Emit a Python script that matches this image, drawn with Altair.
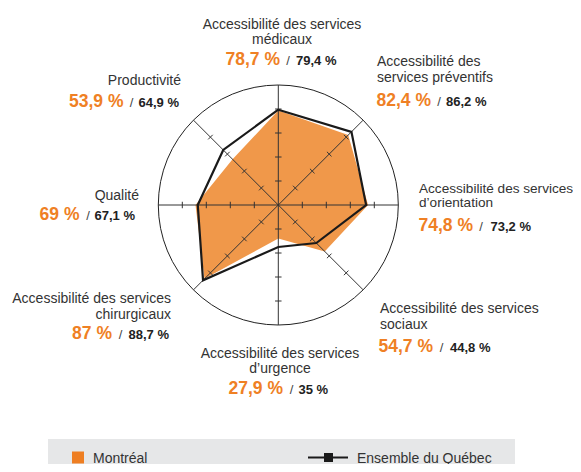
import math
import altair as alt
import pandas as pd

# ---------------- data ----------------
category_lines = [
    ["Accessibilité des services", "médicaux"],
    ["Accessibilité des", "services préventifs"],
    ["Accessibilité des services", "d’orientation"],
    ["Accessibilité des services", "sociaux"],
    ["Accessibilité des services", "d’urgence"],
    ["Accessibilité des services", "chirurgicaux"],
    ["Qualité"],
    ["Productivité"],
]
montreal = [78.7, 82.4, 74.8, 54.7, 27.9, 87.0, 69.0, 53.9]
quebec = [79.4, 86.2, 73.2, 44.8, 35.0, 88.7, 67.1, 64.9]
montreal_text = ["78,7 %", "82,4 %", "74,8 %", "54,7 %", "27,9 %", "87 %", "69 %", "53,9 %"]
quebec_text = ["79,4 %", "86,2 %", "73,2 %", "44,8 %", "35 %", "88,7 %", "67,1 %", "64,9 %"]
tick_values = [20, 40, 60, 80]
series_names = ["Montréal", "Ensemble du Québec"]

# ---------------- layout (page pixels) ----------------
CX, CY, K = 278.3, 205.0, 1.2   # centre of radar, px per percent
W, H = 565, 456


def ux(px):
    return (px - CX) / K


def uy(py):
    return (CY - py) / K


# name anchor: (x, first baseline, align, line spacing, font size)
name_anchor = [
    (282, 28.5, "center", 15, 14),
    (377, 65.5, "left", 16, 14),
    (419, 193, "left", 14, 13.6),
    (380, 313, "left", 15.5, 14),
    (280, 357.5, "center", 15, 14),
    (171, 303, "right", 16, 14),
    (139, 199.5, "right", 15, 14),
    (181, 84.5, "right", 15, 14),
]
# value anchor: (orange right edge, slash centre, black left edge, baseline)
value_anchor = [
    (280, 288, 296, 64.5),
    (431, 439, 446, 105.5),
    (473, 481, 490.5, 231),
    (433, 441.5, 450, 351.5),
    (283, 291.5, 298.5, 394),
    (112, 120.5, 128.5, 339),
    (79.5, 88, 94.5, 220),
    (123.5, 131.5, 138.5, 107),
]

ORANGE_TXT = "#EF8024"
ORANGE_FILL = "#F0984A"
FONT = "Liberation Sans"

xs = alt.Scale(domain=[ux(8), ux(8 + W)], nice=False, zero=False)
ys = alt.Scale(domain=[uy(8 + H), uy(8)], nice=False, zero=False)

n = len(montreal)
ang = [2 * math.pi * i / n for i in range(n)]

X = alt.X("x:Q", scale=xs, axis=None)
Y = alt.Y("y:Q", scale=ys, axis=None)


def poly(values):
    rows = []
    for i in range(n + 1):
        j = i % n
        rows.append({"i": i, "x": values[j] * math.sin(ang[j]), "y": values[j] * math.cos(ang[j])})
    return pd.DataFrame(rows)


# filled Montréal polygon
m_layer = alt.Chart(poly(montreal)).mark_line(filled=True, color=ORANGE_FILL, strokeWidth=0).encode(
    x=X, y=Y, order="i:Q"
)

# Québec line
q_layer = alt.Chart(poly(quebec)).mark_line(color="#1a1a1a", strokeWidth=2.2, strokeJoin="miter").encode(
    x=X, y=Y, order="i:Q"
)

# spokes
sp_df = pd.DataFrame(
    [{"x": 0, "y": 0, "x2": 100 * math.sin(a), "y2": 100 * math.cos(a)} for a in ang]
)
spokes = alt.Chart(sp_df).mark_rule(color="#333333", strokeWidth=1).encode(
    x=X, y=Y, x2="x2:Q", y2="y2:Q"
)

# ticks
tk_rows = []
hl = 2.7
for a in ang:
    for r in tick_values:
        cx, cy = r * math.sin(a), r * math.cos(a)
        dx, dy = math.cos(a), -math.sin(a)
        tk_rows.append({"x": cx - hl * dx, "y": cy - hl * dy, "x2": cx + hl * dx, "y2": cy + hl * dy})
ticks = alt.Chart(pd.DataFrame(tk_rows)).mark_rule(color="#333333", strokeWidth=1).encode(
    x=X, y=Y, x2="x2:Q", y2="y2:Q"
)

# outer circle (radius = 100 %)
circ = alt.Chart(pd.DataFrame({"x": [0], "y": [0]})).mark_point(
    shape="circle", filled=False, size=(2 * 100 * K) ** 2, color="#222222", strokeWidth=1, opacity=1
).encode(x=X, y=Y)

# category names
name_layers = []
groups = {}
for lines, (x, b, al, sp, fs) in zip(category_lines, name_anchor):
    for k, t in enumerate(lines):
        groups.setdefault((al, fs), []).append({"x": ux(x), "y": uy(b + k * sp), "t": t})
for (al, fs), rows in groups.items():
    name_layers.append(
        alt.Chart(pd.DataFrame(rows)).mark_text(
            align=al, baseline="alphabetic", font=FONT, fontSize=fs, color="#333333"
        ).encode(x=X, y=Y, text="t:N")
    )

orange_df = pd.DataFrame(
    [{"x": ux(a[0]), "y": uy(a[3]), "t": t} for a, t in zip(value_anchor, montreal_text)]
)
slash_df = pd.DataFrame([{"x": ux(a[1]), "y": uy(a[3]), "t": "/"} for a in value_anchor])
black_df = pd.DataFrame(
    [{"x": ux(a[2]), "y": uy(a[3]), "t": t} for a, t in zip(value_anchor, quebec_text)]
)
orange_txt = alt.Chart(orange_df).mark_text(
    align="right", baseline="alphabetic", font=FONT, fontSize=17.5, fontWeight="bold", color=ORANGE_TXT
).encode(x=X, y=Y, text="t:N")
slash_txt = alt.Chart(slash_df).mark_text(
    align="center", baseline="alphabetic", font=FONT, fontSize=13, color="#444444"
).encode(x=X, y=Y, text="t:N")
black_txt = alt.Chart(black_df).mark_text(
    align="left", baseline="alphabetic", font=FONT, fontSize=13, fontWeight="bold", color="#222222"
).encode(x=X, y=Y, text="t:N")

# legend
LEG_Y = 457.5
leg_box = alt.Chart(pd.DataFrame({"x": [ux(48)], "x2": [ux(515)], "y": [uy(439)], "y2": [uy(8 + H)]})).mark_rect(
    color="#E6E7E8"
).encode(x=X, x2="x2:Q", y=Y, y2="y2:Q")
leg_sq = alt.Chart(pd.DataFrame({"x": [ux(72)], "x2": [ux(84)], "y": [uy(LEG_Y - 6)], "y2": [uy(LEG_Y + 6)]})).mark_rect(
    color="#EE7E22"
).encode(x=X, x2="x2:Q", y=Y, y2="y2:Q")
leg_line = alt.Chart(pd.DataFrame({"x": [ux(308)], "x2": [ux(348)], "y": [uy(LEG_Y)]})).mark_rule(
    color="#1a1a1a", strokeWidth=2
).encode(x=X, x2="x2:Q", y=Y)
leg_mk = alt.Chart(pd.DataFrame({"x": [ux(328.5)], "y": [uy(LEG_Y)]})).mark_square(
    color="#1a1a1a", size=81, opacity=1
).encode(x=X, y=Y)
leg_txt = alt.Chart(
    pd.DataFrame({"x": [ux(93), ux(357)], "y": [uy(LEG_Y + 5)] * 2, "t": series_names})
).mark_text(align="left", baseline="alphabetic", font=FONT, fontSize=14, color="#333333").encode(
    x=X, y=Y, text="t:N"
)

chart = alt.layer(
    m_layer, circ, spokes, ticks, q_layer,
    *name_layers, orange_txt, slash_txt, black_txt,
    leg_box, leg_sq, leg_line, leg_mk, leg_txt,
).properties(
    width=W, height=H, padding=0, autosize=alt.AutoSizeParams(type="none"), background="white"
).configure_view(stroke=None)

chart.save("out.html", embed_options={"renderer": "svg", "actions": False})
